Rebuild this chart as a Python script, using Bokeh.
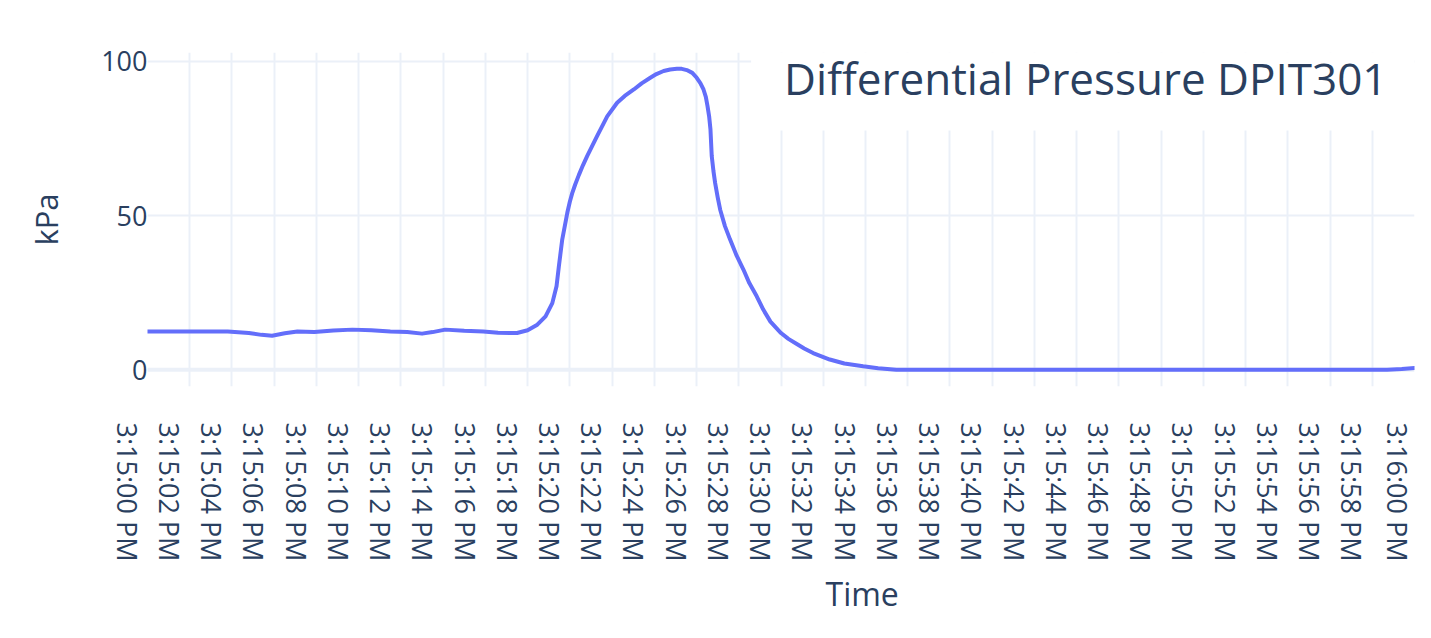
import math
import pandas as pd
from bokeh.plotting import figure
from bokeh.models import FixedTicker, Label, Span, Range1d, Title
from bokeh.embed import file_html
from bokeh.resources import INLINE

# ---------------- data ----------------
start_time = "2023-01-01 15:15:00"
end_seconds = 60

seconds = [0, 1, 2, 3, 3.8, 4.8, 5.4, 5.9, 6.5, 7.1, 7.9, 8.8, 9.7, 10.6, 11.5,
           12.3, 13.0, 13.5, 14.1, 15.0, 15.9, 16.6, 17.2, 17.5, 18.0, 18.46,
           18.85, 19.17, 19.37, 19.48, 19.64, 19.88, 20.0, 20.11, 20.25, 20.43,
           20.62, 20.82, 21.29, 21.77, 22.24, 22.6, 23.03, 23.4, 23.81, 24.1,
           24.44, 24.75, 25.07, 25.3, 25.54, 25.8, 26.01, 26.18, 26.33, 26.44,
           26.52, 26.6, 26.66, 26.72, 26.8, 26.88, 27.0, 27.12, 27.35, 27.59,
           27.9, 28.22, 28.5, 28.85, 29.16, 29.5, 30.0, 30.35, 30.73, 31.1,
           31.52, 32.31, 33.0, 33.89, 34.6, 35.46, 36, 37, 38, 39, 40, 41, 42,
           43, 44, 45, 46, 47, 48, 49, 50, 51, 52, 53, 54, 55, 56, 57, 58, 58.7,
           59.4, 60]
kpa = [12.4, 12.4, 12.4, 12.4, 12.4, 11.9, 11.3, 11.0, 11.8, 12.4, 12.2, 12.7,
       13.0, 12.8, 12.4, 12.2, 11.7, 12.2, 13.0, 12.6, 12.4, 12.0, 11.9, 11.9,
       12.8, 14.6, 17.3, 21.6, 27.1, 33.5, 42.2, 50.9, 54.5, 57.2, 60.0, 63.2,
       66.3, 69.3, 75.8, 82.2, 86.6, 88.8, 90.9, 92.9, 94.7, 95.9, 96.9, 97.4,
       97.6, 97.6, 97.2, 96.3, 94.7, 93.0, 90.9, 88.5, 85.5, 82.0, 77.9, 69.3,
       64.5, 60.6, 56.0, 51.9, 46.5, 42.2, 37.0, 32.5, 28.1, 23.8, 19.5, 15.6,
       11.9, 10.0, 8.4, 6.9, 5.4, 3.3, 2.0, 1.1, 0.5, 0.0, 0.0, 0.0, 0.0, 0.0,
       0.0, 0.0, 0.0, 0.0, 0.0, 0.0, 0.0, 0.0, 0.0, 0.0, 0.0, 0.0, 0.0, 0.0,
       0.0, 0.0, 0.0, 0.0, 0.0, 0.0, 0.2, 0.55]

tick_seconds = list(range(0, 61, 2))
tick_labels = ["3:15:00 PM", "3:15:02 PM", "3:15:04 PM", "3:15:06 PM", "3:15:08 PM",
               "3:15:10 PM", "3:15:12 PM", "3:15:14 PM", "3:15:16 PM", "3:15:18 PM",
               "3:15:20 PM", "3:15:22 PM", "3:15:24 PM", "3:15:26 PM", "3:15:28 PM",
               "3:15:30 PM", "3:15:32 PM", "3:15:34 PM", "3:15:36 PM", "3:15:38 PM",
               "3:15:40 PM", "3:15:42 PM", "3:15:44 PM", "3:15:46 PM", "3:15:48 PM",
               "3:15:50 PM", "3:15:52 PM", "3:15:54 PM", "3:15:56 PM", "3:15:58 PM",
               "3:16:00 PM"]
y_ticks = [0, 50, 100]

title_text = "Differential Pressure DPIT301"
x_title = "Time"
y_title = "kPa"

# ---------------- derived ----------------
t0 = pd.Timestamp(start_time)
times = t0 + pd.to_timedelta(seconds, unit="s")


def to_ms(s):
    return (t0 + pd.Timedelta(seconds=s)).value / 1e6


tick_ms = [to_ms(s) for s in tick_seconds]

FONT = "Open Sans"
TEXT = "#2a3f5f"
GRID = "#EBF0F8"
Y0, Y1 = -5.45, 102.9

p = figure(
    width=1415, height=622,
    x_axis_type="datetime",
    x_range=Range1d(to_ms(0), to_ms(end_seconds)),
    y_range=Range1d(Y0, Y1),
    output_backend="svg", toolbar_location=None,
    min_border_left=147, min_border_right=1, min_border_top=52, min_border_bottom=236,
)
p.background_fill_color = "white"
p.border_fill_color = "white"
p.outline_line_color = None

p.line(times, kpa, line_width=4, color="#636efa", line_join="round", line_cap="round")

# grids
p.xgrid.ticker = FixedTicker(ticks=tick_ms)
p.ygrid.ticker = FixedTicker(ticks=y_ticks)
for g in (p.xgrid, p.ygrid):
    g.grid_line_color = GRID
    g.grid_line_width = 2
zero = Span(location=0, dimension="width", line_color=GRID, line_width=4, level="underlay")
p.add_layout(zero)

# x axis: rotated labels; a leading blank line nudges each label left of its grid line,
# as in the source chart (the last one is already pushed in by the canvas edge)
xa = p.xaxis[0]
xa.ticker = FixedTicker(ticks=tick_ms)
n_ticks = len(tick_ms)
xa.major_label_overrides = {
    ms: ("\n" if i < n_ticks - 1 else "") + lab
    for i, (ms, lab) in enumerate(zip(tick_ms, tick_labels))
}
xa.major_label_orientation = -math.pi / 2
xa.major_label_text_line_height = 1.1

# y axis
ya = p.yaxis[0]
ya.ticker = FixedTicker(ticks=y_ticks)
ya.axis_label = y_title

for ax in (xa, ya):
    ax.axis_line_color = None
    ax.major_tick_line_color = None
    ax.minor_tick_line_color = None
    ax.major_tick_out = 0
    ax.major_tick_in = 0
    ax.major_label_text_font = FONT
    ax.major_label_text_font_size = "27px"
    ax.major_label_text_color = TEXT
    ax.axis_label_text_font = FONT
    ax.axis_label_text_font_size = "31px"
    ax.axis_label_text_color = TEXT
    ax.axis_label_text_font_style = "normal"

xa.major_label_standoff = 36
ya.major_label_standoff = 0
ya.axis_label_standoff = 31

# x axis title (sits right of centre in the source)
p.add_layout(Title(text=x_title, align="left", offset=678, standoff=11,
                   text_font=FONT, text_font_size="32px", text_color=TEXT,
                   text_font_style="normal"), "below")

# title box
title = Label(
    x=to_ms(end_seconds), y=100, x_offset=0, y_offset=-22,
    text=title_text, text_align="right", text_baseline="alphabetic",
    text_font=FONT, text_font_size="44px", text_color=TEXT,
    background_fill_color="white", background_fill_alpha=1.0,
    padding=dict(left=33, right=27, top=12, bottom=22),
)
p.add_layout(title)

open("out.html", "w").write(file_html(p, INLINE))
